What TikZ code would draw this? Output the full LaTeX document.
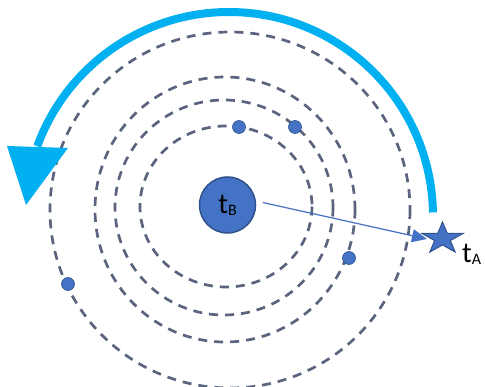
\documentclass[tikz,border=0pt]{standalone}
\usepackage{fontspec}
\setmainfont{Carlito}
\usetikzlibrary{arrows.meta}
\definecolor{arccyan}{HTML}{00B0F0}
\definecolor{nodeblue}{HTML}{4472C4}
\definecolor{nodeedge}{HTML}{2F528F}
\definecolor{orbitgray}{RGB}{90,100,126}
\begin{document}
\begin{tikzpicture}[x=1pt,y=-1pt,
  orbit/.style={draw=orbitgray, line width=2.7pt, dash pattern=on 9pt off 7pt},
  dot/.style={circle, fill=nodeblue, draw=nodeedge, line width=0.6pt, minimum size=13pt, inner sep=0pt},
  bignode/.style={circle, fill=nodeblue, draw=nodeedge, line width=1.5pt, minimum size=56pt, inner sep=0pt},
  lbl/.style={font=\fontsize{29}{31}\selectfont, inner sep=0pt},
  sweep/.style={draw=arccyan, line width=8pt},
  sweephead/.style={fill=arccyan},
  starstyle/.style={fill=nodeblue, draw=nodeedge, line width=1pt, line join=miter},
  link/.style={draw=nodeblue, line width=1.2pt, -{Triangle[length=15pt,width=13pt]}},
]
\useasboundingbox (0,0) rectangle (485,387);
% orbits
\draw[orbit] (226,206.5) ellipse [x radius=86, y radius=80.5];
\draw[orbit] (224,207.5) ellipse [x radius=109, y radius=107.5];
\draw[orbit] (225,209.5) ellipse [x radius=130, y radius=132.5];
\draw[orbit] (230,210) ellipse [x radius=180, y radius=178];
% sweep arrow
\draw[sweep] ([shift={(-1:204)}]229,216) arc[start angle=-1, end angle=-160, radius=204];
\fill[sweephead] (7,146) -- (68,148) -- (26,205) -- cycle;
% dots
\node[dot] (d1) at (239,127) {};
\node[dot] (d2) at (295,127) {};
\node[dot] (d3) at (349,258) {};
\node[dot] (d4) at (68,284) {};
% centre body
\node[bignode, lbl] (tB) at (227.5,205) {t\raisebox{-2pt}{\fontsize{16}{16}\selectfont B}};
% star
\filldraw[starstyle] (442.5,222.0) -- (437.65,233.47) -- (421.96,233.47) -- (434.65,240.56)
  -- (429.8,252.03) -- (442.5,244.94) -- (455.2,252.03) -- (450.35,240.56)
  -- (463.04,233.47) -- (447.35,233.47) -- cycle;
\coordinate (tipA) at (427,239);
\node[lbl, anchor=base west] (tA) at (462,263) {t\raisebox{-2pt}{\fontsize{16}{16}\selectfont A}};
% link
\draw[link, shorten <=7pt] (tB.8) -- (tipA);
\end{tikzpicture}
\end{document}
